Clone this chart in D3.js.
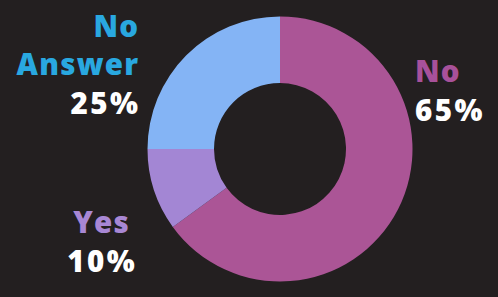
<!DOCTYPE html>
<html>
<head>
<meta charset="utf-8">
<script src="https://cdn.jsdelivr.net/npm/d3@7"></script>
<style>
  body { margin: 0; background: #231f20; }
  svg { display: block; }
  text { font-family: "Open Sans", sans-serif; font-weight: 800; }
</style>
</head>
<body>
<div id="chart"></div>
<script>
var categories = ['No', 'Yes', 'No Answer'];
var values = [65, 10, 25];
var sliceColors = ['#ab5596', '#a386d4', '#84b4f5'];
var labelColors = ['#a8519a', '#a887d4', '#29a8e0'];

var width = 498, height = 297;
var cx = 280, cy = 149, outerR = 132.5, innerR = 66;

var svg = d3.select('#chart').append('svg')
        .attr('width', width)
        .attr('height', height)
        .attr('style', 'background-color:#231f20');

var g = svg.append('g').attr('transform', 'translate(' + cx + ',' + cy + ')');

var pie = d3.pie().sort(null).value(function (d) { return d; });
var arc = d3.arc().innerRadius(innerR).outerRadius(outerR);

g.selectAll('path')
        .data(pie(values))
        .enter().append('path')
        .attr('fill', function (d, i) { return sliceColors[i]; })
        .attr('d', arc);

// label placement per slice: x, anchor, first baseline
var labelPos = [
        { x: 415, anchor: 'start', y: 82 },
        { x: 101, anchor: 'middle', y: 233 },
        { x: 138, anchor: 'end', y: 37 }
];
var lineGap = 38;

categories.forEach(function (name, i) {
        var p = labelPos[i];
        var lines = name === 'No Answer' ? ['No', 'Answer'] : [name];
        var g2 = svg.append('g');
        lines.forEach(function (l, j) {
                g2.append('text')
                        .attr('x', p.x + (p.anchor === 'end' ? 1.2 : p.anchor === 'middle' ? 0.6 : 0))
                        .attr('y', p.y + j * lineGap)
                        .attr('text-anchor', p.anchor)
                        .attr('font-size', 29.5)
                        .attr('letter-spacing', 1.2)
                        .attr('fill', labelColors[i])
                        .text(l);
        });
        g2.append('text')
                .attr('x', p.x + (p.anchor === 'end' ? 2.5 : p.anchor === 'middle' ? 1.2 : 0))
                .attr('y', p.y + lines.length * lineGap + 1)
                .attr('text-anchor', p.anchor)
                .attr('font-size', 29.5)
                .attr('letter-spacing', 2.5)
                .attr('fill', '#ffffff')
                .text(values[i] + '%');
});
</script>
</body>
</html>
